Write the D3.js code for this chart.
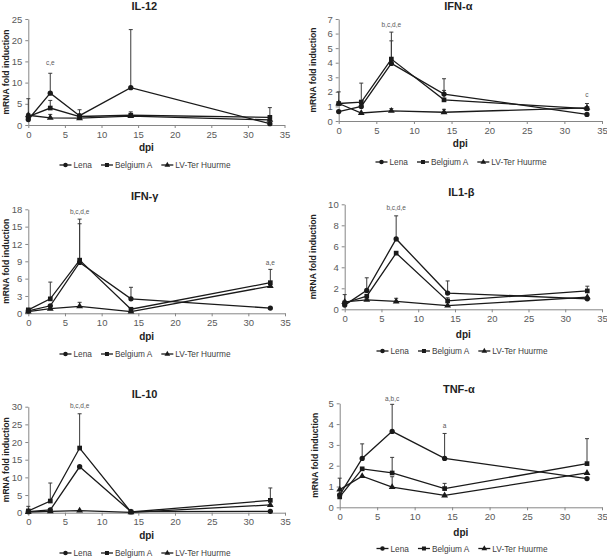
<!DOCTYPE html>
<html><head><meta charset="utf-8">
<script src="https://cdn.jsdelivr.net/npm/d3@7"></script>
<style>body{margin:0;background:#fff}svg{display:block}</style>
</head><body>
<script>
// ---------- DATA ----------
const dpi = [0, 3, 7, 14, 33];
const seriesNames = ["Lena", "Belgium A", "LV-Ter Huurme"];
const xTicks = [0, 5, 10, 15, 20, 25, 30, 35];

// IL-12
const il12Lena = [1.3, 7.5, 2.2, 8.8, 0.3];
const il12LenaErr = [0, 4.7, 1.4, 13.7, 0];
const il12Belg = [2.0, 4.0, 2.0, 2.3, 1.8];
const il12BelgErr = [4.2, 1.8, 0, 0.8, 2.3];
const il12LV = [2.3, 1.7, 1.6, 2.1, 1.2];
const il12LVErr = [0.4, 0.8, 0, 0.4, 0];
const il12Ticks = [0, 5, 10, 15, 20, 25];
const il12Notes = [{x: 3, y: 14.5, t: "c,e"}];

// IFN-alpha
const ifnaLena = [0.65, 1.0, 3.95, 1.85, 0.45];
const ifnaLenaErr = [0, 0, 1.55, 1.05, 0];
const ifnaBelg = [1.2, 1.3, 4.25, 1.45, 0.85];
const ifnaBelgErr = [0.8, 1.3, 1.85, 0.65, 0.35];
const ifnaLV = [1.2, 0.55, 0.7, 0.6, 0.9];
const ifnaLVErr = [0, 0, 0.15, 0.2, 0];
const ifnaTicks = [0, 1, 2, 3, 4, 5, 6, 7];
const ifnaNotes = [{x: 7, y: 6.6, t: "b,c,d,e"}, {x: 33, y: 1.75, t: "c"}];

// IFN-gamma
const ifngLena = [0.4, 1.3, 8.8, 2.5, 0.9];
const ifngLenaErr = [0, 0, 6.7, 2.0, 0];
const ifngBelg = [0.6, 2.5, 9.2, 0.7, 5.3];
const ifngBelgErr = [0, 2.9, 7.1, 0, 2.3];
const ifngLV = [0.3, 0.8, 1.2, 0.3, 4.7];
const ifngLVErr = [0, 0, 0.7, 0, 0];
const ifngTicks = [0, 3, 6, 9, 12, 15, 18];
const ifngNotes = [{x: 7, y: 17.4, t: "b,c,d,e"}, {x: 33, y: 8.7, t: "a,e"}];

// IL1-beta
const il1bLena = [0.4, 1.8, 6.7, 1.55, 1.0];
const il1bLenaErr = [0, 1.2, 2.2, 1.15, 0];
const il1bBelg = [0.6, 1.25, 5.35, 0.8, 1.75];
const il1bBelgErr = [0.8, 0, 0, 0.3, 0.45];
const il1bLV = [0.7, 0.9, 0.75, 0.35, 1.15];
const il1bLVErr = [0, 0, 0.3, 0, 0];
const il1bTicks = [0, 2, 4, 6, 8, 10];
const il1bNotes = [{x: 7, y: 9.6, t: "b,c,d,e"}];

// IL-10
const il10Lena = [0.3, 0.8, 13.0, 0.3, 0.4];
const il10LenaErr = [0, 0, 0, 0, 0];
const il10Belg = [0.5, 3.3, 18.3, 0.2, 3.5];
const il10BelgErr = [1.3, 5.1, 9.7, 0, 3.5];
const il10LV = [0.2, 0.4, 0.6, 0.1, 2.2];
const il10LVErr = [0, 0, 0, 0, 0];
const il10Ticks = [0, 5, 10, 15, 20, 25, 30];
const il10Notes = [{x: 7, y: 30.0, t: "b,c,d,e"}];

// TNF-alpha
const tnfLena = [0.6, 2.35, 3.65, 2.35, 1.38];
const tnfLenaErr = [0, 0.7, 1.3, 1.2, 0];
const tnfBelg = [0.5, 1.85, 1.65, 0.9, 2.1];
const tnfBelgErr = [0.9, 0, 0.75, 0.25, 1.2];
const tnfLV = [0.85, 1.5, 0.97, 0.57, 1.65];
const tnfLVErr = [0, 0, 0.5, 0, 0];
const tnfTicks = [0, 1, 2, 3, 4, 5];
const tnfNotes = [{x: 7, y: 5.2, t: "a,b,c"}, {x: 14, y: 3.9, t: "a"}];

const titles = ["IL-12", "IFN-α", "IFN-γ", "IL1-β", "IL-10", "TNF-α"];

// ---------- LAYOUT ----------
const panels = [
  {title: titles[0], vals: [il12Lena, il12Belg, il12LV], errs: [il12LenaErr, il12BelgErr, il12LVErr], ticks: il12Ticks, notes: il12Notes,
   xL: 28.3, xR: 284.5, yT: 19, yB: 125, tY: 6, dY: 147, lY: 165, lX: 145, yLx: 6},
  {title: titles[1], vals: [ifnaLena, ifnaBelg, ifnaLV], errs: [ifnaLenaErr, ifnaBelgErr, ifnaLVErr], ticks: ifnaTicks, notes: ifnaNotes,
   xL: 338.7, xR: 602, yT: 19, yB: 121, tY: 6, dY: 143, lY: 162, lX: 461, yLx: 313},
  {title: titles[2], vals: [ifngLena, ifngBelg, ifngLV], errs: [ifngLenaErr, ifngBelgErr, ifngLVErr], ticks: ifngTicks, notes: ifngNotes,
   xL: 28.3, xR: 285, yT: 209.3, yB: 313.3, tY: 196, dY: 336, lY: 354, lX: 145, yLx: 6},
  {title: titles[3], vals: [il1bLena, il1bBelg, il1bLV], errs: [il1bLenaErr, il1bBelgErr, il1bLVErr], ticks: il1bTicks, notes: il1bNotes,
   xL: 344.7, xR: 602, yT: 204.3, yB: 309.3, tY: 192, dY: 334, lY: 351, lX: 462, yLx: 313},
  {title: titles[4], vals: [il10Lena, il10Belg, il10LV], errs: [il10LenaErr, il10BelgErr, il10LVErr], ticks: il10Ticks, notes: il10Notes,
   xL: 28.3, xR: 285, yT: 406.7, yB: 512.7, tY: 393.5, dY: 535, lY: 553, lX: 145, yLx: 6},
  {title: titles[5], vals: [tnfLena, tnfBelg, tnfLV], errs: [tnfLenaErr, tnfBelgErr, tnfLVErr], ticks: tnfTicks, notes: tnfNotes,
   xL: 339.7, xR: 602, yT: 403.3, yB: 507.3, tY: 389, dY: 532, lY: 548.5, lX: 462, yLx: 314.5}
];

const FONT = "'Liberation Sans', Arial, sans-serif";
const AXIS = "#868686", TXT = "#595959", LINE = "#1a1a1a", ERR = "#3a3a3a";
const shapes = [d3.symbolCircle, d3.symbolSquare, d3.symbolTriangle];
const sizes = [22, 22, 20];
const legSizes = [16, 16, 14];

const svg = d3.select("body").append("svg").attr("width", 607).attr("height", 559)
  .style("font-family", FONT);

function marker(g, i, x, y, sz) {
  g.append("path").attr("d", d3.symbol().type(shapes[i]).size(sz[i])())
    .attr("transform", `translate(${x},${y})`).attr("fill", LINE);
}

panels.forEach(p => {
  const g = svg.append("g");
  const x = d3.scaleLinear().domain([0, 35]).range([p.xL, p.xR]);
  const yMax = p.ticks[p.ticks.length - 1];
  const y = d3.scaleLinear().domain([0, yMax]).range([p.yB, p.yT]);

  // axes
  const xa = g.append("g").attr("transform", `translate(0,${p.yB})`)
    .call(d3.axisBottom(x).tickValues(xTicks).tickFormat(d3.format("d")).tickSize(3).tickPadding(3).tickSizeOuter(0));
  const ya = g.append("g").attr("transform", `translate(${p.xL},0)`)
    .call(d3.axisLeft(y).tickValues(p.ticks).tickFormat(d3.format("d")).tickSize(3).tickPadding(3).tickSizeOuter(0));
  [xa, ya].forEach(a => {
    a.select(".domain").attr("stroke", AXIS);
    a.selectAll(".tick line").attr("stroke", AXIS);
    a.selectAll("text").attr("fill", TXT).style("font-size", "9.5px").style("font-family", FONT);
  });

  // lines
  const line = d3.line().x((d, i) => x(dpi[i])).y(d => y(d));
  p.vals.forEach((vals, si) => {
    g.append("path").attr("d", line(vals)).attr("fill", "none")
      .attr("stroke", LINE).attr("stroke-width", 1.3);
  });
  // error bars
  p.vals.forEach((vals, si) => {
    vals.forEach((v, i) => {
      const e = p.errs[si][i];
      if (!e) return;
      const cx = x(dpi[i]), y0 = y(v), y1 = y(v + e);
      g.append("line").attr("x1", cx).attr("x2", cx).attr("y1", y0).attr("y2", y1)
        .attr("stroke", ERR).attr("stroke-width", 1);
      g.append("line").attr("x1", cx - 2).attr("x2", cx + 2).attr("y1", y1).attr("y2", y1)
        .attr("stroke", ERR).attr("stroke-width", 1);
    });
  });
  // markers
  p.vals.forEach((vals, si) => {
    vals.forEach((v, i) => marker(g, si, x(dpi[i]), y(v), sizes));
  });
  // annotations
  p.notes.forEach(n => {
    g.append("text").attr("x", x(n.x)).attr("y", y(n.y)).attr("text-anchor", "middle")
      .attr("dominant-baseline", "middle").attr("fill", TXT).style("font-size", "6.5px").text(n.t);
  });
  // title
  g.append("text").attr("x", (p.xL + p.xR) / 2 - 12).attr("y", p.tY).attr("text-anchor", "middle")
    .attr("dominant-baseline", "central").attr("font-weight", "bold").style("font-size", "11px")
    .attr("fill", "#222").text(p.title);
  // x label
  g.append("text").attr("x", (p.xL + p.xR) / 2 - 10).attr("y", p.dY).attr("text-anchor", "middle")
    .attr("dominant-baseline", "central").attr("font-weight", "bold").style("font-size", "10px")
    .attr("fill", "#222").text("dpi");
  // y label
  g.append("text").attr("transform", `translate(${p.yLx},${(p.yT + p.yB) / 2}) rotate(-90)`)
    .attr("text-anchor", "middle").attr("dominant-baseline", "central").attr("font-weight", "bold")
    .style("font-size", "8.6px").attr("fill", "#222").text("mRNA fold induction");

  // legend
  const lg = g.append("g");
  const segW = 12, gap = 2, itemGap = 9;
  let cx = 0;
  seriesNames.forEach((name, si) => {
    const it = lg.append("g").attr("transform", `translate(${cx},0)`);
    it.append("line").attr("x1", 0).attr("x2", segW).attr("y1", 0).attr("y2", 0)
      .attr("stroke", LINE).attr("stroke-width", 1.3);
    marker(it, si, segW / 2, 0, legSizes);
    const t = it.append("text").attr("x", segW + gap).attr("y", 0).attr("dominant-baseline", "central")
      .attr("fill", "#404040").style("font-size", "8.3px").text(name);
    const w = t.node().getComputedTextLength();
    cx += segW + gap + w + itemGap;
  });
  const total = cx - itemGap;
  lg.attr("transform", `translate(${p.lX - total / 2},${p.lY})`);
});
</script>
</body></html>
